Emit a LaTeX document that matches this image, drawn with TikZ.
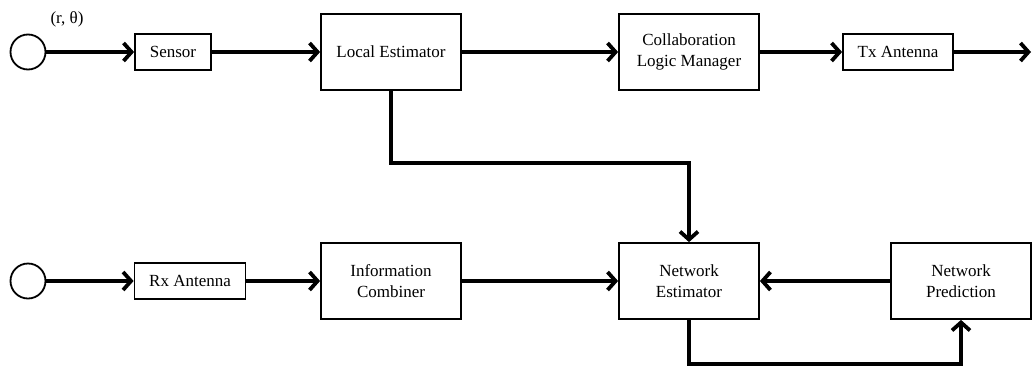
\documentclass[tikz,border=0pt]{standalone}
\usepackage{fontspec}
\setmainfont{Liberation Serif}
\usetikzlibrary{arrows.meta, positioning}
\tikzset{
  blk/.style={draw, line width=1.8pt, minimum width=140pt, minimum height=76pt,
              align=center, inner sep=2pt, font=\fontsize{17}{20.5}\selectfont},
  sblk/.style={draw, line width=1.8pt, minimum height=36pt,
               inner sep=2pt, font=\fontsize{17}{20.5}\selectfont},
  src/.style={circle, draw, line width=1.8pt, minimum size=35pt, inner sep=0pt},
  arr/.style={-{Straight Barb[length=8pt, width=18pt]}, line width=3.8pt},
}
\begin{document}
\begin{tikzpicture}[x=1pt, y=-1pt]
  \useasboundingbox (0,0) rectangle (1032,367);
  % top row
  \node[src] (in1) at (28, 52) {};
  \node[font=\fontsize{17}{20.5}\selectfont] (rt) at (67, 19) {(r, θ)};
  \node[sblk, minimum width=76pt] (sensor) at (173, 52) {Sensor};
  \node[blk] (local) at (391, 52) {Local Estimator};
  \node[blk] (clm) at (689, 52) {Collaboration\\Logic Manager};
  \node[sblk, minimum width=110pt] (tx) at (898, 52) {Tx Antenna};
  \coordinate (out) at (1031, 52);

  % bottom row
  \node[src] (in2) at (28, 281) {};
  \node[sblk, minimum width=111pt] (rx) at (190, 281) {Rx Antenna};
  \node[blk] (comb) at (391, 281) {Information\\Combiner};
  \node[blk] (nest) at (689, 281) {Network\\Estimator};
  \node[blk] (npred) at (961, 281) {Network\\Prediction};

  \draw[arr] (in1) -- (sensor);
  \draw[arr] (sensor) -- (local);
  \draw[arr] (local) -- (clm);
  \draw[arr] (clm) -- (tx);
  \draw[arr] (tx) -- (out);
  \draw[arr] (local.south) |- (689, 163) -- (nest.north);

  \draw[arr] (in2) -- (rx);
  \draw[arr] (rx) -- (comb);
  \draw[arr] (comb) -- (nest);
  \draw[arr] (npred) -- (nest);
  \draw[arr] (nest.south) |- (961, 364) -- (npred.south);
\end{tikzpicture}
\end{document}
